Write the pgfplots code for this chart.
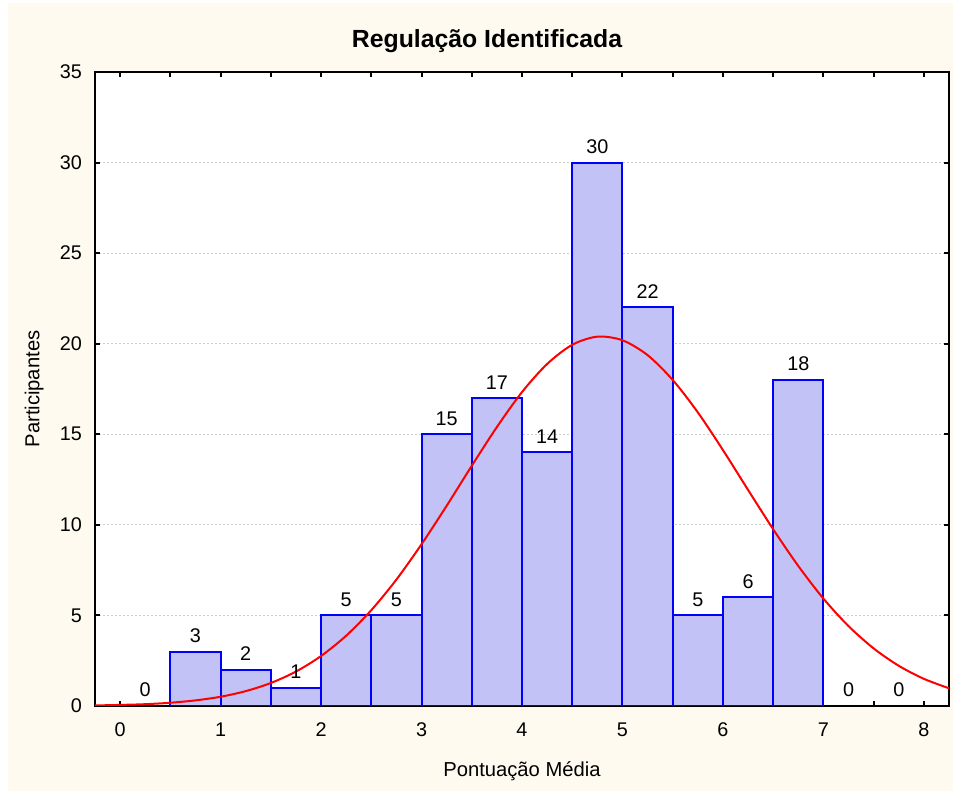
\documentclass[border=0pt]{standalone}
\usepackage{pgfplots}
\pgfplotsset{compat=1.18}
\usepackage{fontspec}
\setmainfont{Liberation Sans}

\definecolor{pagebg}{RGB}{254,250,240}
\definecolor{barfill}{RGB}{194,194,246}
\definecolor{gridgray}{RGB}{205,205,205}

% grid below the bars, ticks and frame above them
\pgfplotsset{
  layers/gridbelow/.define layer set={
    axis background,axis grid,pre main,main,axis ticks,axis lines,axis tick labels,axis descriptions,axis foreground
  }{},
}

\begin{document}
\begin{tikzpicture}
\fill[white] (-47.5bp,-42.5bp) rectangle (429bp,353bp);
\fill[pagebg] (-43.5bp,-42.5bp) rectangle (429bp,351.5bp);

\begin{axis}[
  set layers=gridbelow,
  at={(0,0)}, anchor=south west,
  scale only axis,
  width=427bp, height=317bp,
  xmin=-0.25, xmax=8.25,
  ymin=0, ymax=35,
  xtick={0,1,...,8},
  minor xtick={0.5,1.5,...,7.5},
  ytick={0,5,...,35},
  tick align=inside,
  major tick length=2.5bp,
  minor tick length=2.5bp,
  tick style={black, line width=1bp},
  axis line style={black, line width=1bp},
  axis background/.style={fill=white},
  ymajorgrids,
  major grid style={gridgray, line width=0.6bp, dash pattern=on 1bp off 1bp},
  /pgf/number format/assume math mode=true,
  ticklabel style={font=\fontsize{9.9bp}{11bp}\selectfont},
  xticklabel style={yshift=-5.0bp},
  yticklabel style={xshift=-3.0bp},
  label style={font=\fontsize{10.1bp}{12bp}\selectfont},
  xlabel={Pontuação Média},
  ylabel={Participantes},
  xlabel style={at={(axis description cs:0.5,-0.1025)}, anchor=center},
  ylabel style={at={(axis description cs:-0.0714,0.5)}, anchor=center},
]

% histogram bars (left bin edges, last point closes the final bin)
\addplot[ybar interval, fill=barfill, draw=blue, line width=1bp]
  coordinates {
    (0.5,3) (1.0,2) (1.5,1) (2.0,5) (2.5,5) (3.0,15) (3.5,17)
    (4.0,14) (4.5,30) (5.0,22) (5.5,5) (6.0,6) (6.5,18) (7.0,0)
  };

% bin counts written above each bin
\addplot[draw=none, mark=none,
  nodes near coords,
  every node near coord/.append style={font=\fontsize{9.9bp}{11bp}\selectfont, anchor=south, yshift=1.0bp},
  /pgf/number format/assume math mode=true]
  coordinates {
    (0.25,0) (0.75,3) (1.25,2) (1.75,1) (2.25,5) (2.75,5) (3.25,15) (3.75,17)
    (4.25,14) (4.75,30) (5.25,22) (5.75,5) (6.25,6) (6.75,18) (7.25,0) (7.75,0)
  };

% fitted normal curve (expected counts per bin)
\addplot[red, line width=1bp, smooth, mark=none]
  coordinates {
    (-0.25,0.03) (0.0,0.06) (0.25,0.10) (0.5,0.18) (0.75,0.31) (1.0,0.51)
    (1.25,0.82) (1.5,1.27) (1.75,1.90) (2.0,2.76) (2.25,3.88) (2.5,5.29)
    (2.75,6.98) (3.0,8.93) (3.25,11.05) (3.5,13.26) (3.75,15.40) (4.0,17.33)
    (4.25,18.88) (4.5,19.94) (4.75,20.39) (5.0,20.19) (5.25,19.37) (5.5,18.00)
    (5.75,16.21) (6.0,14.13) (6.25,11.93) (6.5,9.76) (6.75,7.73) (7.0,5.93)
    (7.25,4.41) (7.5,3.18) (7.75,2.22) (8.0,1.50) (8.25,0.98)
  };
\end{axis}

\node[font=\bfseries\fontsize{12.4bp}{14bp}\selectfont, anchor=base] at (196bp,329bp) {Regulação Identificada};

\pgfresetboundingbox
\path[use as bounding box] (-47.5bp,-42.5bp) rectangle (429bp,353bp);
\end{tikzpicture}
\end{document}
